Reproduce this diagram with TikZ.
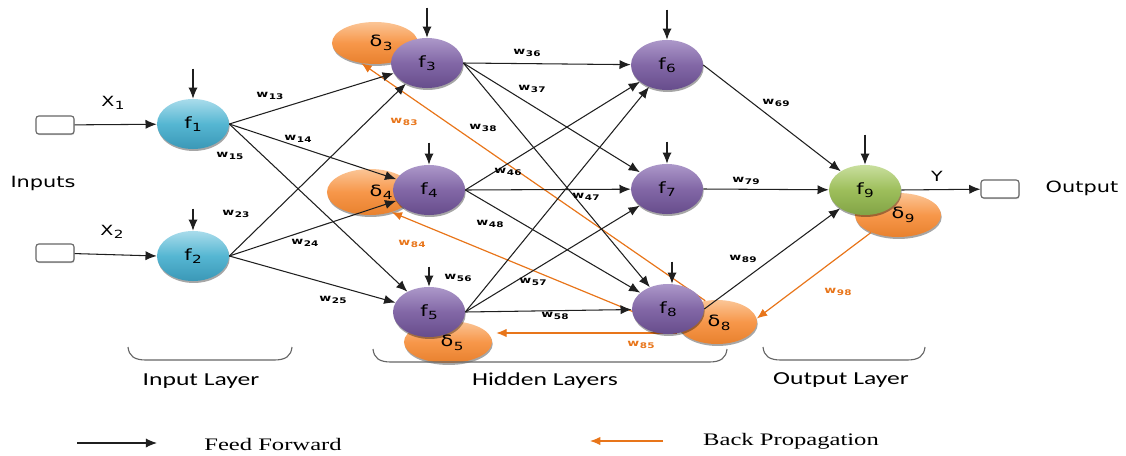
\documentclass[tikz,border=0pt]{standalone}
\usepackage{fontspec}
\setmainfont{DejaVu Sans}
\newfontfamily\lblfont[FakeStretch=1.35]{DejaVu Sans}
\newfontfamily\layfont[FakeStretch=1.4]{Carlito}
\newfontfamily\legfont[FakeStretch=1.4]{Liberation Serif}
\usetikzlibrary{shapes.geometric,arrows.meta,shadows,calc}

% fill colours of the neurons and error terms
\definecolor{tealA}{HTML}{A9DCEB}
\definecolor{tealB}{HTML}{55B6D2}
\definecolor{tealC}{HTML}{3B98B7}
\definecolor{purA}{HTML}{AC98C9}
\definecolor{purB}{HTML}{8267A6}
\definecolor{purC}{HTML}{674D8C}
\definecolor{grnA}{HTML}{C9DF9E}
\definecolor{grnB}{HTML}{9DBE5B}
\definecolor{grnC}{HTML}{82A446}
\definecolor{orA}{HTML}{FBC596}
\definecolor{orB}{HTML}{F7974A}
\definecolor{orC}{HTML}{E8812E}
\definecolor{bpOr}{HTML}{E8751A}

% weight label: w with a small lowered index
\newcommand\wlab[1]{w\kern0.4pt\raisebox{-0.3ex}{\fontsize{5.5}{5.5}\selectfont #1}}
% symbol with lowered index
\newcommand\isub[2]{#1\kern0.3pt\raisebox{-0.4ex}{\fontsize{8}{8}\selectfont #2}}

\begin{document}
\begin{tikzpicture}[x=0.025cm,y=-0.025cm,
  neuron/.style={ellipse, inner sep=0pt, minimum width=1.8cm, minimum height=1.25cm,
    font=\lblfont\fontsize{11}{11}\selectfont,
    drop shadow={shadow xshift=0.5pt,shadow yshift=-1.4pt,fill=black,opacity=0.35}},
  inn/.style={neuron, top color=tealA, bottom color=tealC, middle color=tealB},
  hid/.style={neuron, top color=purA, bottom color=purC, middle color=purB},
  outn/.style={neuron, top color=grnA, bottom color=grnC, middle color=grnB},
  delta/.style={ellipse, inner sep=0pt, top color=orA, bottom color=orC, middle color=orB,
    drop shadow={shadow xshift=0.5pt,shadow yshift=-1.4pt,fill=black,opacity=0.35}},
  dtext/.style={font=\lblfont\fontsize{11}{11}\selectfont, inner sep=0pt},
  ff/.style={draw=black!88, line width=0.75pt, -{Latex[length=2.8mm,width=2.3mm]}},
  bp/.style={draw=bpOr, line width=0.85pt, -{Latex[length=2.6mm,width=2.1mm]}},
  wl/.style={font=\lblfont\bfseries\fontsize{6.8}{7}\selectfont, inner sep=0pt},
  wlo/.style={wl, text=bpOr},
  iobox/.style={draw=black!60, line width=0.8pt, rounded corners=2pt, fill=white,
    minimum width=0.95cm, minimum height=0.45cm, inner sep=0pt,
    drop shadow={shadow xshift=0.4pt,shadow yshift=-0.8pt,fill=black,opacity=0.2}},
  txt/.style={font=\lblfont\fontsize{11}{11}\selectfont, inner sep=0pt},
  laytxt/.style={font=\layfont\fontsize{13}{13}\selectfont, inner sep=0pt},
  legtxt/.style={font=\legfont\fontsize{12.5}{12.5}\selectfont, inner sep=0pt},
  brace/.style={draw=black!60, line width=0.8pt}
]
\useasboundingbox (0,0) rectangle (1126,455);

% error terms (behind the neurons)
\node[delta, minimum width=2.15cm, minimum height=1.05cm] (d3) at (375,43) {};
\node[delta, minimum width=2.15cm, minimum height=1.15cm] (d4) at (370,192) {};
\node[delta, minimum width=2.2cm,  minimum height=1.05cm] (d5) at (448,342) {};
\node[delta, minimum width=2.0cm,  minimum height=1.1cm]  (d8) at (717,322) {};
\node[delta, minimum width=2.15cm, minimum height=1.1cm]  (d9) at (898,215) {};
\node[dtext] (d3t) at (381,43) {\isub{δ}{3}};
\node[dtext] (d4t) at (381,192) {\isub{δ}{4}};
\node[dtext] (d5t) at (452,343) {\isub{δ}{5}};
\node[dtext] (d8t) at (719,323) {\isub{δ}{8}};
\node[dtext] (d9t) at (903,215) {\isub{δ}{9}};

% back propagation
\coordinate (b5s) at ($(d8.west)+(0,11)$);
\draw[bp] (d8.119) -- (d3.236);
\draw[bp] (d8.194) -- (d4.317);
\draw[bp, shorten >=2.8pt] (b5s) -- (b5s -| d5.east);
\draw[bp] (d9.213) -- (d8.5);

% neurons
\node[inn] (f1) at (193,124) {\isub{f}{1}};
\node[inn] (f2) at (193,256) {\isub{f}{2}};
\node[hid] (f3) at (427,63)  {\isub{f}{3}};
\node[hid] (f4) at (429,190) {\isub{f}{4}};
\node[hid] (f5) at (429,312) {\isub{f}{5}};
\node[hid] (f6) at (667,65)  {\isub{f}{6}};
\node[hid] (f7) at (667,189) {\isub{f}{7}};
\node[hid] (f8) at (668,309) {\isub{f}{8}};
\node[outn] (f9) at (865,190) {\isub{f}{9}};

% input and output terminals
\node[iobox] (x1b) at (55,125) {};
\node[iobox] (x2b) at (55,253) {};
\node[iobox] (yb) at (1000,189) {};

% feed forward connections
\draw[ff] (x1b) -- (f1);
\draw[ff] (x2b) -- (f2.west);
\foreach \s in {f1,f2}
  \foreach \t in {f3,f4,f5}
    \draw[ff] (\s.east) -- (\t);
\foreach \s in {f3,f4,f5}
  \foreach \t in {f6,f7,f8}
    \draw[ff] (\s.east) -- (\t);
\foreach \s in {f6,f7,f8}
  \draw[ff] (\s.east) -- (f9);
\draw[ff] (f9.east) -- (yb);

% bias inputs
\coordinate (bb1) at ($(f1.north)+(0,-30)$);
\coordinate (bb2) at ($(f2.north)+(0,-22)$);
\coordinate (bb3) at ($(f3.north)+(0,-30)$);
\coordinate (bb4) at ($(f4.north)+(0,-22)$);
\coordinate (bb5) at ($(f5.north)+(0,-20)$);
\coordinate (bb6) at ($(f6.north)+(0,-30)$);
\coordinate (bb7) at ($(f7.north)+(0,-22)$);
\coordinate (bb8) at ($(f8.north)+(4,-22)$);
\coordinate (bb9) at ($(f9.north)+(0,-30)$);
\foreach \i in {1,...,7,9}
  \draw[ff] (bb\i) -- (f\i.north);
\draw[ff] (bb8) -- (bb8 |- f8.north);

% weights
\node[wl] (w13) at (270,96)  {\wlab{13}};
\node[wl] (w14) at (298,139) {\wlab{14}};
\node[wl] (w15) at (230,156) {\wlab{15}};
\node[wl] (w23) at (236,214) {\wlab{23}};
\node[wl] (w24) at (305,243) {\wlab{24}};
\node[wl] (w25) at (333,300) {\wlab{25}};
\node[wl] (w36) at (527,53)  {\wlab{36}};
\node[wl] (w37) at (532,89)  {\wlab{37}};
\node[wl] (w38) at (483,128) {\wlab{38}};
\node[wl] (w46) at (508,172) {\wlab{46}};
\node[wl] (w47) at (586,197) {\wlab{47}};
\node[wl] (w48) at (490,224) {\wlab{48}};
\node[wl] (w56) at (458,278) {\wlab{56}};
\node[wl] (w57) at (533,282) {\wlab{57}};
\node[wl] (w58) at (555,316) {\wlab{58}};
\node[wl] (w69) at (776,103) {\wlab{69}};
\node[wl] (w79) at (746,181) {\wlab{79}};
\node[wl] (w89) at (743,259) {\wlab{89}};
\node[wlo] (w83) at (404,122) {\wlab{83}};
\node[wlo] (w84) at (412,244) {\wlab{84}};
\node[wlo] (w85) at (641,345) {\wlab{85}};
\node[wlo] (w98) at (838,292) {\wlab{98}};

% signal names
\node[txt] (inputs) at (43,183) {Inputs};
\node[txt, font=\lblfont\fontsize{10}{10}\selectfont] (xl1) at (113,103) {\isub{X}{1}};
\node[txt, font=\lblfont\fontsize{10}{10}\selectfont] (xl2) at (112,232) {\isub{X}{2}};
\node[txt, font=\lblfont\fontsize{10}{10}\selectfont] (yl) at (937,176) {Y};
\node[txt] (outl) at (1082,188) {Output};

% layer braces
\draw[brace] (128,347) .. controls (129,356) and (134,360) .. (146,360) -- (274,360)
  .. controls (286,360) and (291,356) .. (292,347);
\draw[brace] (373,349) .. controls (374,358) and (379,362) .. (391,362) -- (709,362)
  .. controls (721,362) and (726,358) .. (727,349);
\draw[brace] (763,347) .. controls (764,356) and (769,360) .. (781,360) -- (907,360)
  .. controls (919,360) and (924,356) .. (925,347);
\node[laytxt] (lin) at (201,381) {Input Layer};
\node[laytxt] (lhid) at (545,381) {Hidden Layers};
\node[laytxt] (lout) at (841,380) {Output Layer};

% legend
\coordinate (lga) at (77,443);
\coordinate (lgb) at (157,443);
\coordinate (lgc) at (663,441);
\coordinate (lgd) at (590,441);
\draw[ff] (lga) -- (lgb);
\draw[bp] (lgc) -- (lgd);
\node[legtxt] (lff) at (273,444) {Feed Forward};
\node[legtxt] (lbp) at (791,441) {Back Propagation};
\end{tikzpicture}
\end{document}
